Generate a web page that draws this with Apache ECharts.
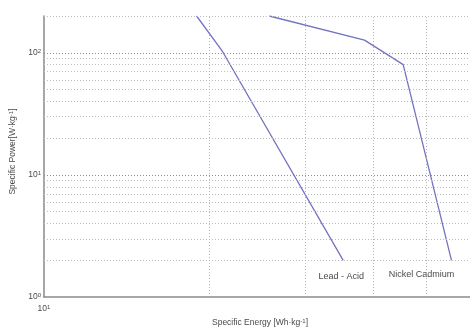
<!DOCTYPE html>
<html><head><meta charset="utf-8">
<script src="https://cdn.jsdelivr.net/npm/echarts@6/dist/echarts.min.js"></script>
<style>html,body{margin:0;padding:0;background:#fff}#c{width:470px;height:332px}</style>
</head><body><div id="c"></div>
<script>
var leadAcid = [[19.0, 200], [21.2, 102], [35.2, 2]];
var nickelCadmium = [[25.8, 200], [38.5, 127], [45.3, 80], [55.5, 2]];
var xGridValues = [20, 30, 40, 50];
var yMinorGrid = [2, 3, 4, 5, 6, 7, 8, 9, 20, 30, 40, 50, 60, 70, 80, 90, 200];
var yMajorGrid = [10, 100];
var xRange = [10, 60];
var yRange = [1, 200];
var xName = 'Specific Energy [Wh·kg{s|-1}]';
var yName = 'Specific Power[W·kg{s|-1}]';

var txt = '#4a4a4a';
var rich = {s: {fontSize: 6, verticalAlign: 'top', color: txt, fontFamily: 'Liberation Sans', lineHeight: 8}};
function pow10(v) {
  var e = Math.round(Math.log10(v));
  if (Math.abs(Math.pow(10, e) - v) > 1e-6) return '';
  return '10{s|' + e + '}';
}
var gridLine = function (vals, key, color) {
  return vals.map(function (v) { var o = {}; o[key] = v; o.lineStyle = {color: color, type: [1, 2], width: 1}; return o; });
};
var chart = echarts.init(document.getElementById('c'), null, {renderer: 'canvas'});
var label = function (text, pos, off) {
  return {show: true, formatter: text, position: pos, offset: off, color: txt, fontSize: 9, fontFamily: 'Liberation Sans'};
};
var laData = leadAcid.map(function (p, i) {
  return i === leadAcid.length - 1 ? {value: p, label: label('Lead - Acid', 'bottom', [-2, 7])} : {value: p};
});
var ncData = nickelCadmium.map(function (p, i) {
  return i === nickelCadmium.length - 1 ? {value: p, label: label('Nickel Cadmium', 'bottom', [-30, 5])} : {value: p};
});
chart.setOption({
  animation: false,
  grid: {left: 41, top: 16, right: 0, bottom: 31},
  xAxis: {
    type: 'log', logBase: 10, min: xRange[0], max: xRange[1],
    name: xName, nameLocation: 'middle', nameGap: 18,
    nameTextStyle: {color: txt, fontSize: 8.5, fontFamily: 'Liberation Sans', rich: rich, padding: [0, 0, 0, 6]},
    axisLine: {lineStyle: {color: '#8a8a8a', width: 1.5}},
    axisTick: {show: false},
    splitLine: {show: false},
    axisLabel: {formatter: pow10, color: txt, fontSize: 8.5, fontFamily: 'Liberation Sans', rich: rich, margin: 7, showMaxLabel: false}
  },
  yAxis: {
    type: 'log', logBase: 10, min: yRange[0], max: yRange[1],
    name: yName, nameLocation: 'middle', nameGap: 27, nameRotate: 90,
    nameTextStyle: {color: txt, fontSize: 8.5, fontFamily: 'Liberation Sans', rich: rich, padding: [0, 0, 0, 10]},
    axisLine: {show: true, lineStyle: {color: '#8a8a8a', width: 1.5}},
    axisTick: {show: false},
    splitLine: {show: false},
    axisLabel: {formatter: pow10, color: txt, fontSize: 8.5, fontFamily: 'Liberation Sans', rich: rich, margin: 3, showMaxLabel: false}
  },
  series: [
    {
      type: 'line', data: [], silent: true, z: 1,
      markLine: {
        silent: true, symbol: 'none', label: {show: false}, animation: false,
        data: gridLine(yMinorGrid, 'yAxis', '#bdbdbd')
          .concat(gridLine(yMajorGrid, 'yAxis', '#8f8f8f'))
          .concat(gridLine(xGridValues, 'xAxis', '#b0b0b0'))
      }
    },
    {type: 'line', name: 'Lead - Acid', data: laData, showSymbol: true, symbol: 'circle', symbolSize: 0.1, z: 3,
     itemStyle: {color: 'rgba(0,0,0,0)'}, lineStyle: {color: '#7373c2', width: 1.3}},
    {type: 'line', name: 'Nickel Cadmium', data: ncData, showSymbol: true, symbol: 'circle', symbolSize: 0.1, z: 3,
     itemStyle: {color: 'rgba(0,0,0,0)'}, lineStyle: {color: '#7373c2', width: 1.3}}
  ]
});
</script></body></html>
